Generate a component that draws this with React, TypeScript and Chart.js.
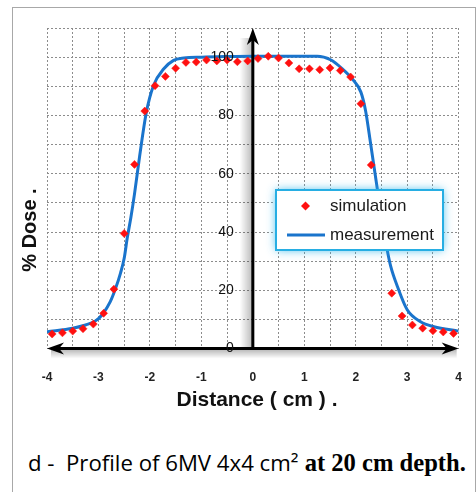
import React, { useEffect, useRef } from 'react';
import { Chart, registerables } from 'chart.js';

Chart.register(...registerables);

// ---- data ----
const simulationX = [-3.9, -3.7, -3.5, -3.3, -3.1, -2.9, -2.7, -2.5, -2.3, -2.1, -1.9, -1.7, -1.5, -1.3, -1.1, -0.9, -0.7, -0.5, -0.3, -0.1, 0.1, 0.3, 0.5, 0.7, 0.9, 1.1, 1.3, 1.5, 1.7, 1.9, 2.1, 2.3, 2.5, 2.7, 2.9, 3.1, 3.3, 3.5, 3.7, 3.9];
const simulationY = [5.0, 5.4, 6.0, 6.8, 8.4, 12.1, 20.4, 39.5, 63.2, 81.5, 90.2, 93.4, 96.2, 98.2, 98.3, 99.0, 98.7, 99.0, 98.4, 98.7, 99.5, 100.3, 99.7, 98.0, 96.0, 96.0, 95.7, 96.3, 95.4, 93.2, 84.0, 63.0, 40.0, 19.0, 11.2, 8.1, 7.0, 6.1, 5.7, 5.2];

const measurementX = [-4.0, -3.5, -3.25, -3.05, -2.92, -2.77, -2.67, -2.57, -2.5, -2.44, -2.37, -2.3, -2.2, -2.07, -1.93, -1.73, -1.54, -1.34, -1.0, -0.5, 0.0, 0.5, 1.0, 1.25, 1.51, 1.74, 1.93, 2.1, 2.19, 2.29, 2.42, 2.61, 2.68, 2.81, 3.0, 3.26, 3.52, 4.0];
const measurementY = [5.8, 7.0, 8.1, 9.6, 11.8, 16.1, 20.5, 26.0, 31.0, 38.0, 45.0, 53.0, 66.0, 81.0, 90.3, 96.0, 98.9, 99.7, 100.0, 100.2, 100.3, 100.3, 100.3, 100.3, 99.1, 96.0, 92.6, 88.0, 81.7, 70.2, 54.7, 34.0, 28.2, 21.3, 13.3, 9.2, 7.5, 6.0];

const xMin = -4;
const xMax = 4;
const yMin = 0;
const yMax = 110;
const yLabelValues = [0, 20, 40, 60, 80, 100];

const seriesNames = ['simulation', 'measurement'];
const xTitle = 'Distance ( cm ) .';
const yTitle = '% Dose .';

const RED = '#ff1010';
const BLUE = '#1a74cc';
const SANS = '"Liberation Sans", Arial, sans-serif';

function drawStealth(ctx: CanvasRenderingContext2D, tx: number, ty: number, angle: number) {
  ctx.save();
  ctx.translate(tx, ty);
  ctx.rotate(angle);
  ctx.beginPath();
  ctx.moveTo(0, 0);
  ctx.lineTo(-17, -6);
  ctx.lineTo(-12, 0);
  ctx.lineTo(-17, 6);
  ctx.closePath();
  ctx.fill();
  ctx.restore();
}

const decorPlugin = {
  id: 'decor',
  beforeDatasetsDraw(chart: any) {
    const ctx = chart.ctx as CanvasRenderingContext2D;
    const xs = chart.scales.x;
    const ys = chart.scales.y;
    const x0 = xs.getPixelForValue(0);
    const y0 = ys.getPixelForValue(0);
    const yTop = ys.getPixelForValue(yMax);
    ctx.save();
    // shadow left of y axis
    const g = ctx.createLinearGradient(x0 - 13, 0, x0, 0);
    g.addColorStop(0, 'rgba(0,0,0,0)');
    g.addColorStop(1, 'rgba(0,0,0,0.28)');
    ctx.fillStyle = g;
    ctx.fillRect(x0 - 13, yTop + 10, 13, y0 - yTop - 10);
    // shadow under x axis
    const g2 = ctx.createLinearGradient(0, y0, 0, y0 + 10);
    g2.addColorStop(0, 'rgba(0,0,0,0.3)');
    g2.addColorStop(1, 'rgba(0,0,0,0)');
    ctx.fillStyle = g2;
    ctx.fillRect(xs.getPixelForValue(xMin) + 4, y0 + 1, xs.getPixelForValue(xMax) - xs.getPixelForValue(xMin) - 6, 10);
    ctx.restore();
  },
  afterDatasetsDraw(chart: any) {
    const ctx = chart.ctx as CanvasRenderingContext2D;
    const xs = chart.scales.x;
    const ys = chart.scales.y;
    const x0 = xs.getPixelForValue(0);
    const y0 = ys.getPixelForValue(0);
    const xl = xs.getPixelForValue(xMin);
    const xr = xs.getPixelForValue(xMax);
    const yTop = ys.getPixelForValue(yMax);
    ctx.save();
    ctx.strokeStyle = '#000';
    ctx.fillStyle = '#000';
    ctx.lineWidth = 3;
    ctx.beginPath();
    ctx.moveTo(xl + 10, y0);
    ctx.lineTo(xr - 10, y0);
    ctx.moveTo(x0, y0 + 1);
    ctx.lineTo(x0, yTop + 10);
    ctx.stroke();
    drawStealth(ctx, xr, y0, 0);
    drawStealth(ctx, xl, y0, Math.PI);
    drawStealth(ctx, x0, yTop, -Math.PI / 2);

    // y tick labels, placed on the y scale next to the x = 0 axis
    ctx.fillStyle = '#111';
    ctx.font = `14px ${SANS}`;
    ctx.textAlign = 'right';
    ctx.textBaseline = 'middle';
    yLabelValues.forEach((v) => {
      ctx.fillText(String(v), x0 - 19, ys.getPixelForValue(v));
    });

    // axis titles
    ctx.fillStyle = '#111';
    ctx.textAlign = 'center';
    ctx.textBaseline = 'middle';
    ctx.font = `bold 21px ${SANS}`;
    ctx.fillText(xTitle, 257, 400);
    ctx.font = `bold 20px ${SANS}`;
    ctx.translate(30, 230);
    ctx.rotate(-Math.PI / 2);
    ctx.fillText(yTitle, 0, 0);
    ctx.restore();
  },
  afterDraw(chart: any) {
    const ctx = chart.ctx as CanvasRenderingContext2D;
    const ds = chart.data.datasets;
    const bx = 276, by = 190, bw = 167, bh = 60;
    ctx.save();
    ctx.shadowColor = 'rgba(40,180,235,0.85)';
    ctx.shadowBlur = 9;
    ctx.fillStyle = '#fff';
    ctx.fillRect(bx, by, bw, bh);
    ctx.shadowColor = 'rgba(0,0,0,0)';
    ctx.shadowBlur = 0;
    ctx.strokeStyle = '#27aee3';
    ctx.lineWidth = 2;
    ctx.strokeRect(bx, by, bw, bh);

    // simulation entry
    ctx.fillStyle = ds[0].pointBackgroundColor;
    ctx.beginPath();
    ctx.moveTo(305.5, 206 - 4.5);
    ctx.lineTo(310, 206);
    ctx.lineTo(305.5, 206 + 4.5);
    ctx.lineTo(301, 206);
    ctx.closePath();
    ctx.fill();
    // measurement entry
    ctx.strokeStyle = ds[1].borderColor;
    ctx.lineWidth = 3;
    ctx.beginPath();
    ctx.moveTo(287, 235);
    ctx.lineTo(325, 235);
    ctx.stroke();

    ctx.fillStyle = '#1a1a1a';
    ctx.font = `17px ${SANS}`;
    ctx.textAlign = 'left';
    ctx.textBaseline = 'middle';
    ctx.fillText(ds[0].label, 330, 206);
    ctx.fillText(ds[1].label, 330, 235);
    ctx.restore();
  },
};

export default function App() {
  const ref = useRef<HTMLCanvasElement | null>(null);

  useEffect(() => {
    if (!ref.current) return;
    const chart = new Chart(ref.current, {
      type: 'scatter',
      data: {
        datasets: [
          {
            label: seriesNames[0],
            data: simulationX.map((x, i) => ({ x, y: simulationY[i] })),
            showLine: false,
            pointStyle: 'rectRot',
            pointRadius: 4,
            pointBorderWidth: 0.5,
            pointBackgroundColor: RED,
            pointBorderColor: RED,
          },
          {
            type: 'line',
            label: seriesNames[1],
            data: measurementX.map((x, i) => ({ x, y: measurementY[i] })),
            showLine: true,
            borderColor: BLUE,
            borderWidth: 3,
            pointRadius: 0,
            cubicInterpolationMode: 'monotone',
            fill: false,
          } as any,
        ],
      },
      options: {
        animation: false,
        responsive: false,
        maintainAspectRatio: false,
        layout: { padding: { left: 47, right: 0, top: 28, bottom: 13 } },
        plugins: {
          legend: { display: false },
          tooltip: { enabled: false },
        },
        scales: {
          x: {
            type: 'linear',
            position: 'bottom',
            min: xMin,
            max: xMax,
            ticks: {
              stepSize: 0.5,
              autoSkip: false,
              maxRotation: 0,
              padding: 22,
              color: '#222',
              font: { family: SANS, size: 12, weight: 'bold' },
              callback: (v: any) => (Number.isInteger(Number(v)) ? String(v) : ''),
            },
            grid: { color: '#8c8c8c', lineWidth: 1, drawTicks: false },
            border: { display: false, dash: [2, 2] },
          },
          y: {
            type: 'linear',
            position: { x: 0 } as any,
            min: yMin,
            max: yMax,
            ticks: {
              stepSize: 10,
              autoSkip: false,
              display: false,
            },
            grid: { color: '#8c8c8c', lineWidth: 1, drawTicks: false },
            border: { display: false, dash: [2, 2] },
          },
        },
      },
      plugins: [decorPlugin],
    });
    return () => chart.destroy();
  }, []);

  return (
    <div style={{ position: 'fixed', left: 0, top: 0, width: 476, height: 492, background: '#fff', overflow: 'hidden' }}>
      <div style={{ position: 'absolute', left: 12, top: 7, width: 462, height: 500, border: '1px solid #a8a8a8' }} />
      <canvas ref={ref} width={484} height={420} style={{ position: 'absolute', left: 0, top: 0, width: 484, height: 420 }} />
      <div
        style={{
          position: 'absolute',
          left: 28,
          top: 451,
          whiteSpace: 'pre',
          lineHeight: '24px',
          color: '#000',
        }}
      >
        <span style={{ fontFamily: '"Open Sans", sans-serif', fontSize: 22.2 }}>{'d -  Profile of 6MV 4x4 cm²'}</span>
        <span style={{ fontFamily: '"Liberation Serif", serif', fontSize: 24.6, fontWeight: 'bold' }}>{' at 20 cm depth.'}</span>
      </div>
    </div>
  );
}
